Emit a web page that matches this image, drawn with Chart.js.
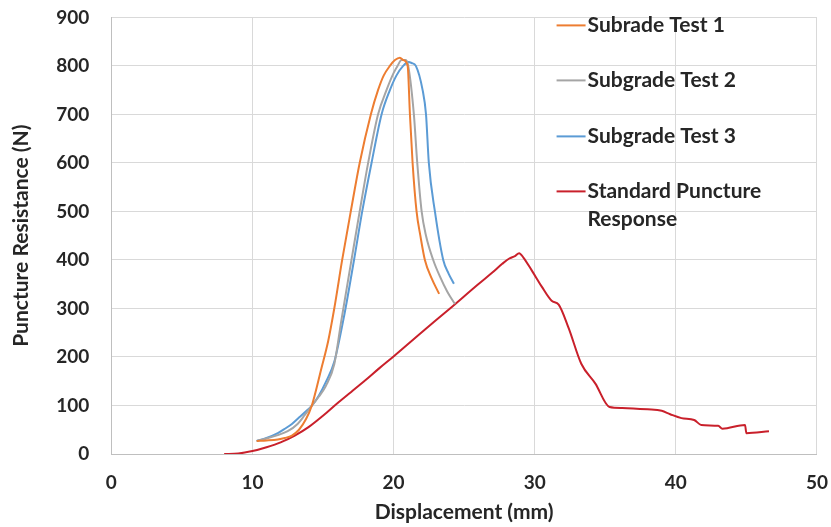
<!DOCTYPE html>
<html>
<head>
<meta charset="utf-8">
<script src="https://cdn.jsdelivr.net/npm/chart.js@4/dist/chart.umd.min.js"></script>
<style>
html,body{margin:0;padding:0;background:#fff;overflow:hidden;}
#wrap{width:831px;height:527px;position:relative;overflow:hidden;}
#c{position:absolute;left:0;top:-16px;}
</style>
</head>
<body>
<div id="wrap"><canvas id="c" width="845" height="543"></canvas></div>
<script>
// ---- data ----
const seriesNames = ["Subrade Test 1", "Subgrade Test 2", "Subgrade Test 3", ["Standard Puncture", "Response"]];

const test1X = [10.3,11.0,11.8,12.3,12.8,13.3,13.8,14.2,14.9,15.37,15.8,16.36,16.97,17.6,18.39,18.9,19.3,19.74,20.1,20.45,20.7,21.0,21.16,21.35,21.63,21.9,22.22,22.7,23.23];
const test1Y = [27,28,30,33,38,50,72,99,178,233,300,400,500,600,700,750,780,800,812,817,812,800,700,600,500,450,400,362,330];

const test2X = [10.3,11.0,11.8,12.5,13.2,13.7,14.2,14.7,15.2,15.8,16.3,17.02,17.6,18.2,18.9,19.5,20.0,20.28,20.57,20.87,21.04,21.44,21.68,21.99,22.3,22.81,23.3,23.8,24.35];
const test2Y = [27,32,39,47,62,80,99,118,140,185,275,400,500,600,700,750,785,800,812,812,800,700,600,500,450,400,365,335,309];

const test3X = [10.3,11.0,11.8,12.3,12.8,13.3,13.8,14.2,14.7,15.2,15.8,16.5,17.2,17.78,18.44,19.15,19.74,20.2,20.68,21.06,21.28,21.58,22.06,22.3,22.5,22.93,23.52,23.9,24.28];
const test3Y = [27,33,43,52,62,75,88,99,120,148,190,285,400,500,600,700,750,780,800,808,806,800,750,700,600,500,400,372,351];

const stdX = [8.0,9.0,10.0,11.0,12.0,13.0,14.0,15.0,16.0,17.0,18.0,19.0,20.0,22.0,24.0,26.0,27.0,27.7,28.2,28.6,28.9,29.2,29.8,30.5,31.2,31.7,32.4,33.3,34.3,35.3,36.2,38.0,39.0,39.6,40.4,41.3,41.8,43.0,43.3,44.9,45.0,46.6];
const stdY = [0,1,6,14,24,38,56,79,104,128,152,177,201,251,300,350,374,392,403,408,414,405,378,345,316,308,260,186,145,97,95,92,89,82,74,70,60,58,52,60,43,47];

const xTicks = [0,10,20,30,40,50];
const yTicks = [0,100,200,300,400,500,600,700,800,900];

const colors = ["#ED7D31", "#A5A5A5", "#5B9BD5", "#C9202B"];

function pts(xs, ys){ return xs.map((x,i)=>({x:x, y:ys[i]})); }

const FONT = "Lato, 'Open Sans', sans-serif";
const TXT = "#262626";

const legendPlugin = {
  id: 'customLegend',
  afterDatasetsDraw(chart){
    const ctx = chart.ctx;
    const ca = chart.chartArea;
    const x0 = ca.left + (ca.right - ca.left) * 0.631;
    const rows = [8, 63, 119, 174];
    ctx.save();
    ctx.font = "bold 21px " + FONT;
    ctx.textBaseline = 'middle';
    ctx.textAlign = 'left';
    seriesNames.forEach((name, i) => {
      const y = ca.top + rows[i];
      ctx.strokeStyle = colors[i];
      ctx.lineWidth = 2;
      ctx.beginPath();
      ctx.moveTo(x0, y);
      ctx.lineTo(x0 + 29, y);
      ctx.stroke();
      ctx.fillStyle = TXT;
      const lines = Array.isArray(name) ? name : [name];
      lines.forEach((t, j) => ctx.fillText(t, x0 + 31, y + j * 28));
    });
    ctx.restore();
  }
};

new Chart(document.getElementById('c'), {
  type: 'scatter',
  data: {
    datasets: [
      {label: "Subrade Test 1", data: pts(test1X, test1Y), borderColor: colors[0]},
      {label: "Subgrade Test 2", data: pts(test2X, test2Y), borderColor: colors[1]},
      {label: "Subgrade Test 3", data: pts(test3X, test3Y), borderColor: colors[2]},
      {label: "Standard Puncture Response", data: pts(stdX, stdY), borderColor: colors[3]}
    ].map(d => Object.assign(d, {showLine: true, pointRadius: 0, borderWidth: 2, cubicInterpolationMode: 'monotone', fill: false}))
  },
  options: {
    responsive: false,
    animation: false,
    layout: {padding: {left: 8, right: 1, top: 2, bottom: 2}},
    plugins: {legend: {display: false}, tooltip: {enabled: false}},
    scales: {
      x: {
        type: 'linear', min: 0, max: 50,
        afterBuildTicks: s => { s.ticks = xTicks.map(v => ({value: v})); },
        grid: {color: '#D9D9D9', drawTicks: false},
        border: {color: '#BFBFBF'},
        ticks: {font: {family: FONT, size: 19, weight: 'bold'}, color: TXT, padding: 17, maxRotation: 0},
        title: {display: true, text: 'Displacement (mm)', font: {family: FONT, size: 21, weight: 'bold'}, color: TXT, padding: {top: -11, bottom: 0}}
      },
      y: {
        min: 0, max: 900,
        afterBuildTicks: s => { s.ticks = yTicks.map(v => ({value: v})); },
        grid: {color: '#D9D9D9', drawTicks: false},
        border: {color: '#BFBFBF'},
        ticks: {font: {family: FONT, size: 19, weight: 'bold'}, color: TXT, padding: 22},
        title: {display: true, text: 'Puncture Resistance (N)', font: {family: FONT, size: 21, weight: 'bold'}, color: TXT, padding: {top: 1, bottom: 0}}
      }
    }
  },
  plugins: [legendPlugin]
});
</script>
</body>
</html>
